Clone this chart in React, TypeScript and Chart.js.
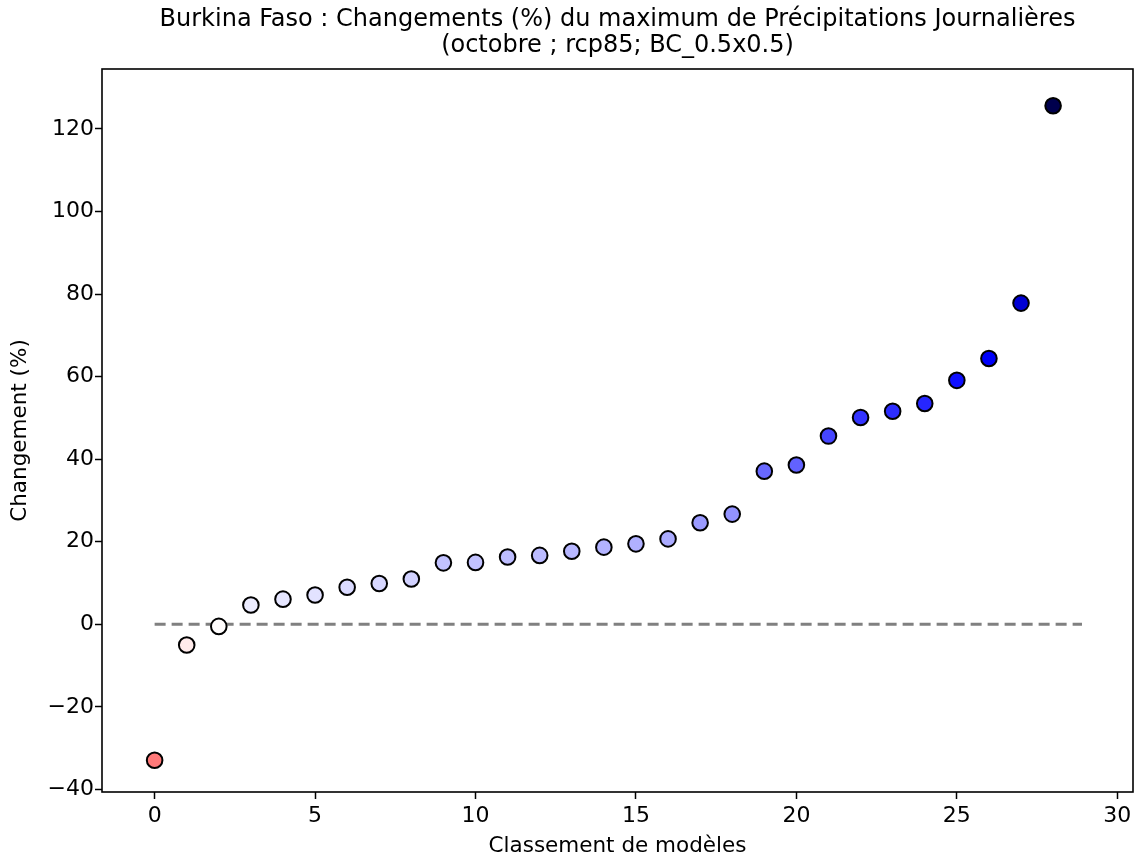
import React, { useEffect, useRef } from 'react';
import { Chart, registerables } from 'chart.js';

Chart.register(...registerables);

const modelRanks = [0, 1, 2, 3, 4, 5, 6, 7, 8, 9, 10, 11, 12, 13, 14, 15, 16, 17, 18, 19, 20, 21, 22, 23, 24, 25, 26, 27, 28];
const changes = [-32.9, -5.0, -0.5, 4.7, 6.1, 7.1, 9.0, 9.9, 11.0, 14.9, 15.0, 16.3, 16.7, 17.7, 18.7, 19.5, 20.7, 24.6, 26.7, 37.1, 38.6, 45.6, 50.1, 51.6, 53.5, 59.1, 64.4, 77.8, 125.6];
const zeroLineX = [0, 28.9];
const zeroLineY = [0, 0];
const xTicks = [0, 5, 10, 15, 20, 25, 30];
const yTicks = [-40, -20, 0, 20, 40, 60, 80, 100, 120];
const titleLines = [
  'Burkina Faso : Changements (%) du maximum de Précipitations Journalières',
  '(octobre ; rcp85; BC_0.5x0.5)',
];
const xLabel = 'Classement de modèles';
const yLabel = 'Changement (%)';

// matplotlib "seismic" colormap, reversed (positive = blue)
function seismic(s: number): [number, number, number] {
  const stops: [number, number, number, number][] = [
    [0.0, 0, 0, 0.3],
    [0.25, 0, 0, 1],
    [0.5, 1, 1, 1],
    [0.75, 1, 0, 0],
    [1.0, 0.5, 0, 0],
  ];
  s = Math.max(0, Math.min(1, s));
  for (let i = 0; i < stops.length - 1; i++) {
    const a = stops[i];
    const b = stops[i + 1];
    if (s >= a[0] && s <= b[0]) {
      const f = (s - a[0]) / (b[0] - a[0]);
      return [a[1] + (b[1] - a[1]) * f, a[2] + (b[2] - a[2]) * f, a[3] + (b[3] - a[3]) * f];
    }
  }
  return [0.5, 0, 0];
}

function colorFor(v: number, vmax: number): string {
  const t = (v + vmax) / (2 * vmax);
  const [r, g, b] = seismic(1 - t);
  return `rgb(${Math.round(r * 255)},${Math.round(g * 255)},${Math.round(b * 255)})`;
}

const fmt = (v: number) => (v < 0 ? '\u2212' + Math.abs(v) : String(v));

const framePlugin = {
  id: 'frame',
  afterDatasetsDraw(chart: any) {
    const { ctx, chartArea } = chart;
    const { left, top, right, bottom } = chartArea;
    ctx.save();
    ctx.strokeStyle = '#000';
    ctx.lineWidth = 1.6;
    ctx.strokeRect(left, top, right - left, bottom - top);
    ctx.restore();
  },
  afterDraw(chart: any) {
    const { ctx, chartArea } = chart;
    const cx = (chartArea.left + chartArea.right) / 2;
    ctx.save();
    ctx.fillStyle = '#000';
    ctx.font = '24px "DejaVu Sans"';
    ctx.textAlign = 'center';
    ctx.textBaseline = 'middle';
    ctx.fillText(titleLines[0], cx, 20);
    ctx.fillText(titleLines[1], cx, 46);
    ctx.restore();
  },
};

export default function App() {
  const ref = useRef<HTMLCanvasElement | null>(null);

  useEffect(() => {
    if (!ref.current) return;
    const vmax = Math.max(...changes.map((v) => Math.abs(v)));
    const points = modelRanks.map((x, i) => ({ x, y: changes[i] }));
    const linePts = zeroLineX.map((x, i) => ({ x, y: zeroLineY[i] }));
    const fontTick = { family: '"DejaVu Sans"', size: 22 };
    const fontLabel = { family: '"DejaVu Sans"', size: 21.5 };

    const chart = new Chart(ref.current, {
      type: 'scatter',
      data: {
        datasets: [
          {
            type: 'scatter',
            data: points,
            order: 0,
            pointRadius: 7.8,
            pointHoverRadius: 7.8,
            pointBorderWidth: 2,
            pointBorderColor: '#000',
            pointBackgroundColor: changes.map((v) => colorFor(v, vmax)),
          } as any,
          {
            type: 'line',
            data: linePts,
            order: 1,
            borderColor: '#808080',
            borderWidth: 3,
            borderDash: [11, 6],
            pointRadius: 0,
            fill: false,
          } as any,
        ],
      },
      options: {
        responsive: false,
        animation: false,
        devicePixelRatio: 1,
        layout: { autoPadding: false, padding: { top: 69, right: 3, left: 0, bottom: 0 } },
        plugins: {
          legend: { display: false },
          title: { display: false },
          tooltip: { enabled: false },
        },
        scales: {
          x: {
            type: 'linear',
            min: -1.64,
            max: 30.49,
            afterBuildTicks: (s: any) => {
              s.ticks = xTicks.map((v) => ({ value: v }));
            },
            afterFit: (s: any) => {
              s.height = 67;
              s.paddingLeft = 0;
              s.paddingRight = 0;
            },
            ticks: {
              color: '#000',
              font: fontTick,
              padding: 4,
              maxRotation: 0,
              autoSkip: false,
              callback: (v: any) => fmt(Number(v)),
            },
            grid: {
              display: true,
              drawOnChartArea: false,
              drawTicks: true,
              tickLength: 7,
              tickWidth: 1.5,
              tickColor: '#000',
            },
            border: { display: false },
            title: {
              display: true,
              text: xLabel,
              color: '#000',
              font: fontLabel,
              padding: { top: 0, bottom: 0 },
            },
          },
          y: {
            type: 'linear',
            min: -40.6,
            max: 134.5,
            afterBuildTicks: (s: any) => {
              s.ticks = yTicks.map((v) => ({ value: v }));
            },
            afterFit: (s: any) => {
              s.width = 102;
              s.paddingTop = 0;
              s.paddingBottom = 0;
            },
            ticks: {
              color: '#000',
              font: fontTick,
              padding: 1,
              autoSkip: false,
              callback: (v: any) => fmt(Number(v)),
            },
            grid: {
              display: true,
              drawOnChartArea: false,
              drawTicks: true,
              tickLength: 7,
              tickWidth: 1.5,
              tickColor: '#000',
            },
            border: { display: false },
            title: {
              display: true,
              text: yLabel,
              color: '#000',
              font: fontLabel,
              padding: { top: 8, bottom: 0 },
            },
          },
        },
      },
      plugins: [framePlugin],
    } as any);

    return () => chart.destroy();
  }, []);

  return (
    <div style={{ position: 'fixed', left: 0, top: 0, width: 1136, height: 859, background: '#fff' }}>
      <canvas ref={ref} width={1136} height={859} style={{ width: 1136, height: 859, display: 'block' }} />
    </div>
  );
}
